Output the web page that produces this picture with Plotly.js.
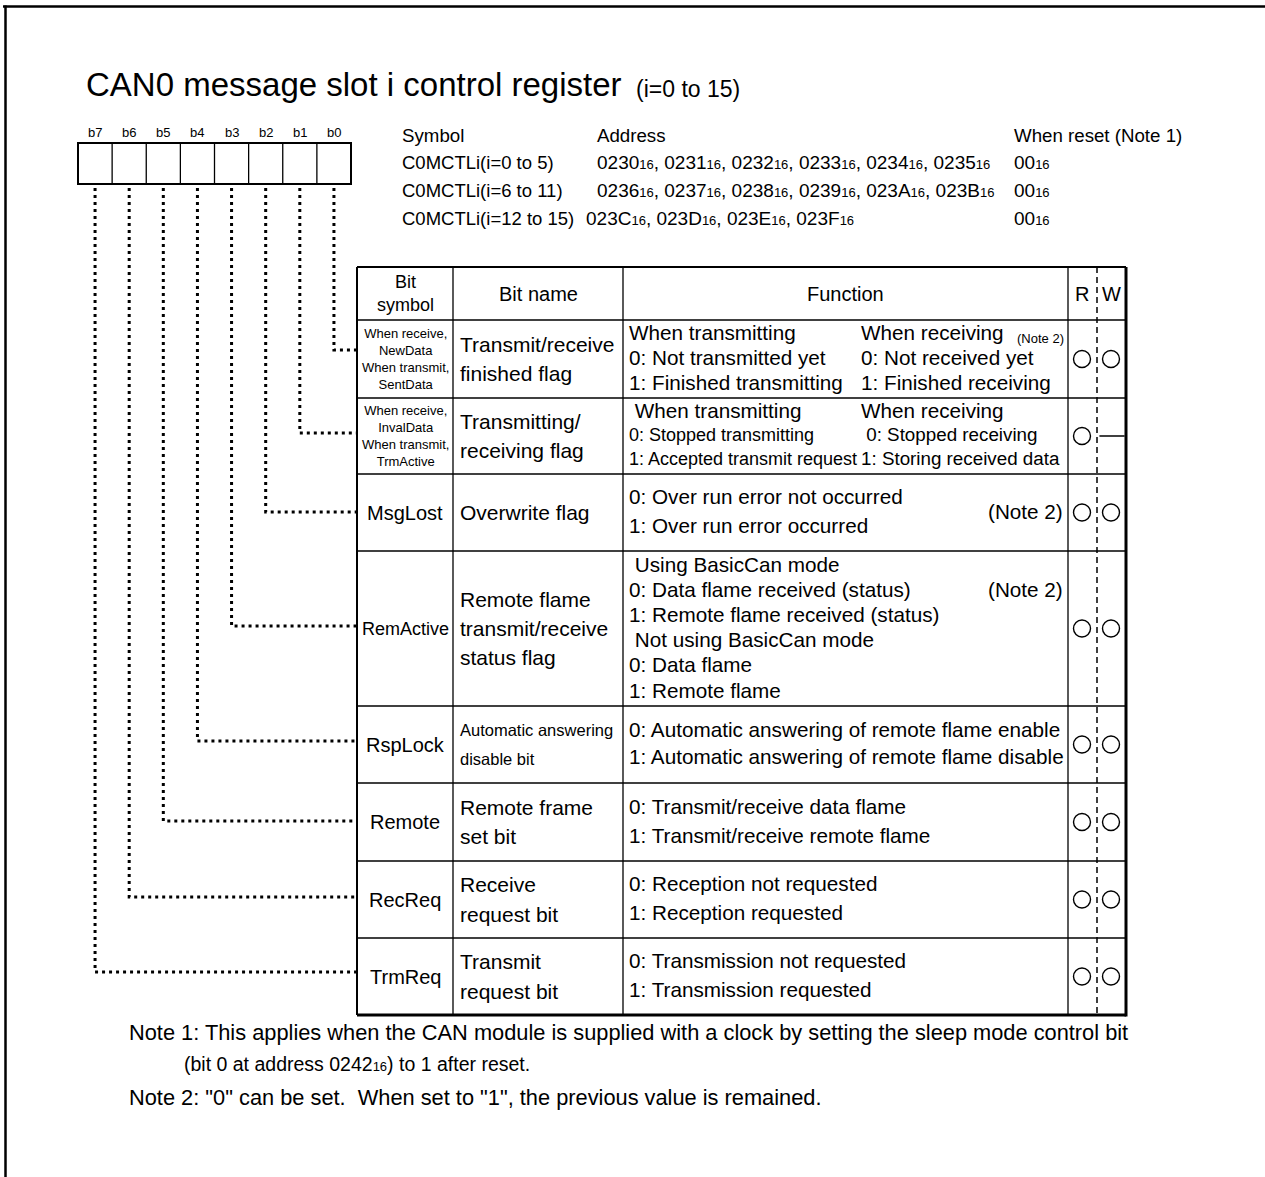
<!DOCTYPE html>
<html><head><meta charset="utf-8">
<script src="https://cdn.plot.ly/plotly-3.0.1.min.js"></script>
<style>html,body{margin:0;padding:0;background:#fff}</style>
</head><body><div id="chart" style="width:1265px;height:1177px"></div>
<script>
// ---------- data ----------
const titleMain = 'CAN0 message slot i control register';
const titleSub = '(i=0 to 15)';
const bitLabels = ['b7','b6','b5','b4','b3','b2','b1','b0'];
const infoHeaders = ['Symbol','Address','When reset (Note 1)'];
const regSymbols = ['C0MCTLi(i=0 to 5)','C0MCTLi(i=6 to 11)','C0MCTLi(i=12 to 15)'];
const regAddresses = [['0230','0231','0232','0233','0234','0235'],
                      ['0236','0237','0238','0239','023A','023B'],
                      ['023C','023D','023E','023F']];
const regResets = ['00','00','00'];
const hexSuffix = '16';
const tableHeaders = ['Bit name','Function','R','W'];
const symbolHeader = ['Bit','symbol'];
const bitSymbols = [
  ['When receive,','NewData','When transmit,','SentData'],
  ['When receive,','InvalData','When transmit,','TrmActive'],
  ['MsgLost'],['RemActive'],['RspLock'],['Remote'],['RecReq'],['TrmReq']];
const bitNames = [
  ['Transmit/receive','finished flag'],
  ['Transmitting/','receiving flag'],
  ['Overwrite flag'],
  ['Remote flame','transmit/receive','status flag'],
  ['Automatic answering','disable bit'],
  ['Remote frame','set bit'],
  ['Receive','request bit'],
  ['Transmit','request bit']];
const funcLeft = [
  ['When transmitting','0: Not transmitted yet','1: Finished transmitting'],
  ['\u00a0When transmitting','0: Stopped transmitting','1: Accepted transmit request'],
  ['0: Over run error not occurred','1: Over run error occurred'],
  ['\u00a0Using BasicCan mode','0: Data flame received (status)','1: Remote flame received (status)',
   '\u00a0Not using BasicCan mode','0: Data flame','1: Remote flame'],
  ['0: Automatic answering of remote flame enable','1: Automatic answering of remote flame disable'],
  ['0: Transmit/receive data flame','1: Transmit/receive remote flame'],
  ['0: Reception not requested','1: Reception requested'],
  ['0: Transmission not requested','1: Transmission requested']];
const funcRight = [
  ['When receiving','0: Not received yet','1: Finished receiving'],
  ['When receiving','\u00a00: Stopped receiving','1: Storing received data'],
  [],[],[],[],[],[]];
const funcNote = ['(Note 2)','','(Note 2)','(Note 2)','','','',''];
const readAccess  = ['o','o','o','o','o','o','o','o'];
const writeAccess = ['o','-','o','o','o','o','o','o'];
const footNotes = [
  'Note 1: This applies when the CAN module is supplied with a clock by setting the sleep mode control bit',
  '(bit 0 at address 0242<span style="font-size:13px">16</span>) to 1 after reset.',
  'Note 2: "0" can be set.\u00a0 When set to "1", the previous value is remained.'];

// ---------- layout constants ----------
const FONT = 'Liberation Sans, Arial, Helvetica, sans-serif';
const BLACK = '#000';
const W = 1265, H = 1177;
const boxL = 78, boxR = 351, boxT = 143, boxB = 184;
const cellW = (boxR - boxL) / 8;
const tL = 357, cSym = 453, cName = 623, cR = 1068, cRW = 1097, tR = 1126;
const rowEdges = [267, 320, 398, 474, 551, 706, 783, 861, 938, 1015];
const leaderY = [350, 433, 512, 626, 741, 821, 897, 972]; // rows 0..7 (b0..b7)
const symSizes = [13, 13, 20, 18, 20, 20, 20, 20];
const nameSizes = [21, 21, 21, 21, 16.5, 21, 21, 21];

const ann = [];
function txt(x, y, text, size, anchor, extra) {
  const a = {x: x, y: y, xref: 'x', yref: 'y', text: text, showarrow: false,
    xanchor: anchor || 'left', yanchor: 'middle', borderpad: 0, borderwidth: 0,
    font: {family: FONT, size: size, color: BLACK}};
  return Object.assign(a, extra || {});
}
const shapes = [];
function line(x0, y0, x1, y1, w, dash) {
  shapes.push({type: 'line', xref: 'x', yref: 'y', x0: x0, y0: y0, x1: x1, y1: y1,
    line: {color: BLACK, width: w, dash: dash || 'solid'}});
}

// outer frame (top and left)
line(3, 6.5, W, 6.5, 2.5);
line(5.5, 5.5, 5.5, H, 2.5);

// title
ann.push(txt(86, 84, titleMain, 33, 'left'));
ann.push(txt(636, 89, titleSub, 23, 'left'));

// bit box
shapes.push({type: 'rect', xref: 'x', yref: 'y', x0: boxL, x1: boxR, y0: boxT, y1: boxB,
  line: {color: BLACK, width: 2}});
bitLabels.forEach((b, i) => {
  const cx = boxL + cellW * (i + 0.5);
  ann.push(txt(cx, 132, b, 13, 'center'));
  if (i > 0) line(boxL + cellW * i, boxT, boxL + cellW * i, boxB, 1.3);
});

// leaders: bit bK (K=7-i) -> row K
bitLabels.forEach((b, i) => {
  const row = 7 - i;
  const cx = boxL + cellW * (i + 0.5);
  const y = leaderY[row];
  shapes.push({type: 'path', xref: 'x', yref: 'y',
    path: 'M' + cx + ',188 L' + cx + ',' + y + ' L' + (tL - 1) + ',' + y,
    line: {color: BLACK, width: 3, dash: '3px,4px'}});
});

// register info
const infoX = [402, 597, 1014];
const infoY = [135, 162, 190, 218];
infoHeaders.forEach((h, i) => ann.push(txt(infoX[i], infoY[0], h, 18.7, 'left')));
const addrX = [597, 597, 586];
const sub = s => '<span style="font-size:13px">' + s + '</span>';
regSymbols.forEach((s, r) => {
  ann.push(txt(infoX[0], infoY[r + 1], s, 18.5, 'left'));
  const addr = regAddresses[r].map(a => a + sub(hexSuffix)).join(', ');
  ann.push(txt(addrX[r], infoY[r + 1], addr, 19, 'left'));
  ann.push(txt(infoX[2], infoY[r + 1], regResets[r] + sub(hexSuffix), 19, 'left'));
});

// table grid
rowEdges.forEach((y, i) => {
  const outer = (i === 0 || i === rowEdges.length - 1);
  line(tL, y, tR, y, outer ? (i === 0 ? 2 : 3) : 1.3);
});
line(tL, rowEdges[0], tL, rowEdges[9], 2);
line(tR, rowEdges[0], tR, rowEdges[9] + 1.5, 3);
[cSym, cName, cR].forEach(x => line(x, rowEdges[0], x, rowEdges[9], 1.3));
line(cRW, rowEdges[0], cRW, rowEdges[9], 1.5, '6px,4px');

// header
const hy = (rowEdges[0] + rowEdges[1]) / 2;
ann.push(txt((tL + cSym) / 2, hy - 0.5, symbolHeader.join('<br>'), 18, 'center'));
ann.push(txt((cSym + cName) / 2, hy, tableHeaders[0], 20, 'center'));
ann.push(txt((cName + cR) / 2, hy, tableHeaders[1], 20, 'center'));
ann.push(txt((cR + cRW) / 2 - 1, hy, tableHeaders[2], 20, 'center'));
ann.push(txt((cRW + tR) / 2, hy, tableHeaders[3], 20, 'center'));

// rows
const rxR = [], ryR = [], rxW = [], ryW = [], dxW = [], dyW = [];
for (let r = 0; r < 8; r++) {
  const top = rowEdges[r + 1], bot = rowEdges[r + 2];
  const cy = (top + bot) / 2;
  // bit symbol
  const syms = bitSymbols[r];
  ann.push(txt((tL + cSym) / 2, cy, syms.join('<br>'), symSizes[r], 'center'));
  // bit name
  const nm = bitNames[r];
  const nSp = nm.length > 2 ? 29 : 29.5;
  nm.forEach((s, k) => ann.push(txt(cSym + 7, cy + (k - (nm.length - 1) / 2) * nSp, s, nameSizes[r], 'left')));
  // function
  const fl = funcLeft[r];
  const fSp = fl.length > 2 ? (r === 1 ? 24 : 25.2) : (r === 4 ? 27 : 29);
  const fy = k => cy - 1.5 + (k - (fl.length - 1) / 2) * fSp;
  fl.forEach((s, k) => {
    const sz = (r === 1 && k > 0) ? 18 : 20.7;
    ann.push(txt(cName + 6, fy(k), s, sz, 'left'));
  });
  funcRight[r].forEach((s, k) => {
    const sz = (r === 1 && k > 0) ? 18.8 : 20.7;
    ann.push(txt(861, fy(k), s, sz, 'left'));
  });
  if (funcNote[r]) {
    if (funcRight[r].length) ann.push(txt(cR - 4, fy(0) + 6, funcNote[r], 13, 'right'));
    else if (fl.length === 2) ann.push(txt(cR - 5, cy - 1.5, funcNote[r], 20.7, 'right'));
    else ann.push(txt(cR - 5, fy(1), funcNote[r], 20.7, 'right'));
  }
  // access marks
  if (readAccess[r] === 'o') { rxR.push(1082); ryR.push(cy); }
  if (writeAccess[r] === 'o') { rxW.push(1111); ryW.push(cy); }
  else if (writeAccess[r] === '-') { dxW.push(1112); dyW.push(cy); }
}

// footnotes
ann.push(txt(129, 1032, footNotes[0], 21.8, 'left'));
ann.push(txt(184, 1064, footNotes[1], 19.5, 'left'));
ann.push(txt(129, 1097, footNotes[2], 21.8, 'left'));

const traces = [
  {type: 'scatter', mode: 'markers', x: rxR.concat(rxW), y: ryR.concat(ryW), hoverinfo: 'skip',
   marker: {symbol: 'circle-open', size: 17, color: BLACK, line: {width: 1.4, color: BLACK}}},
  {type: 'scatter', mode: 'markers', x: dxW, y: dyW, hoverinfo: 'skip',
   marker: {symbol: 'line-ew-open', size: 18, color: BLACK, line: {width: 1.5, color: BLACK}}}
];

const layout = {
  width: W, height: H, margin: {l: 0, r: 0, t: 0, b: 0},
  paper_bgcolor: '#fff', plot_bgcolor: '#fff', showlegend: false,
  xaxis: {range: [0, W], visible: false, fixedrange: true},
  yaxis: {range: [H, 0], visible: false, fixedrange: true},
  shapes: shapes, annotations: ann
};
Plotly.newPlot('chart', traces, layout, {staticPlot: true, displayModeBar: false});
</script></body></html>
